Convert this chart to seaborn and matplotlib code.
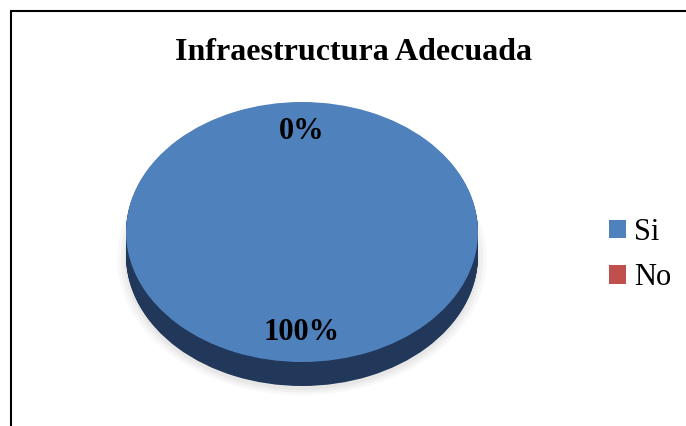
import matplotlib
matplotlib.use("Agg")
import matplotlib.pyplot as plt
from matplotlib.lines import Line2D
from matplotlib.patches import Patch
import seaborn as sns

# ---- data ----
categories = ["Si", "No"]
values = [100, 0]
title = "Infraestructura Adecuada"

sns.set_theme(style="white")
plt.rcParams["font.family"] = ["Liberation Serif", "DejaVu Serif"]
plt.rcParams["text.color"] = "black"

colors = sns.color_palette(["#4F81BD", "#C0504D"])
side_colors = ["#22385A", "#7A2E2C"]

W, H = 686, 426
fig = plt.figure(figsize=(W / 100, H / 100), dpi=100)
fig.patch.set_facecolor("white")
ax = fig.add_axes([0, 0, 1, 1])

# pie geometry (pixels)
cx, cy, rx, ry, depth = 302, 232, 176, 130, 24
d = depth / ry

# soft shadow
for k, a in [(1.05, 0.05), (1.03, 0.06), (1.01, 0.08)]:
    ax.pie(values, colors=["#808080", "#808080"], startangle=90, counterclock=False,
           radius=k, center=(0, -d - 0.02),
           wedgeprops=dict(linewidth=0, alpha=a))

# side (extruded layers)
n = 30
for i in range(n, 0, -1):
    ax.pie(values, colors=side_colors, startangle=90, counterclock=False,
           center=(0, -d * i / n), wedgeprops=dict(linewidth=0))

# top face
wedges, texts, autotexts = ax.pie(
    values, colors=colors, startangle=90, counterclock=False,
    autopct="%1.0f%%", pctdistance=0.77,
    wedgeprops=dict(linewidth=0),
    textprops=dict(fontsize=22, fontweight="bold", color="black"))

ax.set_aspect("auto")
ax.set_xlim(-cx / rx, (W - cx) / rx)
ax.set_ylim((cy - H) / ry, cy / ry)
ax.axis("off")

fig.text(353 / W, 1 - 53 / H, title, ha="center", va="center",
         fontsize=23, fontweight="bold", color="black")

handles = [Patch(facecolor=c, edgecolor="none") for c in colors]
leg = fig.legend(handles, categories, loc="center left", bbox_to_anchor=(597 / W, 1 - 255 / H),
                 frameon=False, fontsize=22, handlelength=0.55, handleheight=0.55,
                 handletextpad=0.25, labelspacing=0.55, borderaxespad=0)
for t in leg.get_texts():
    t.set_color("black")

# chart border (left and top edges visible)
fig.add_artist(Line2D([11 / W, 11 / W], [0, 1 - 11 / H], transform=fig.transFigure,
                      color="black", linewidth=1.5))
fig.add_artist(Line2D([11 / W, 1], [1 - 11 / H, 1 - 11 / H], transform=fig.transFigure,
                      color="black", linewidth=1.5))

fig.savefig("out.png", dpi=100, facecolor="white")
